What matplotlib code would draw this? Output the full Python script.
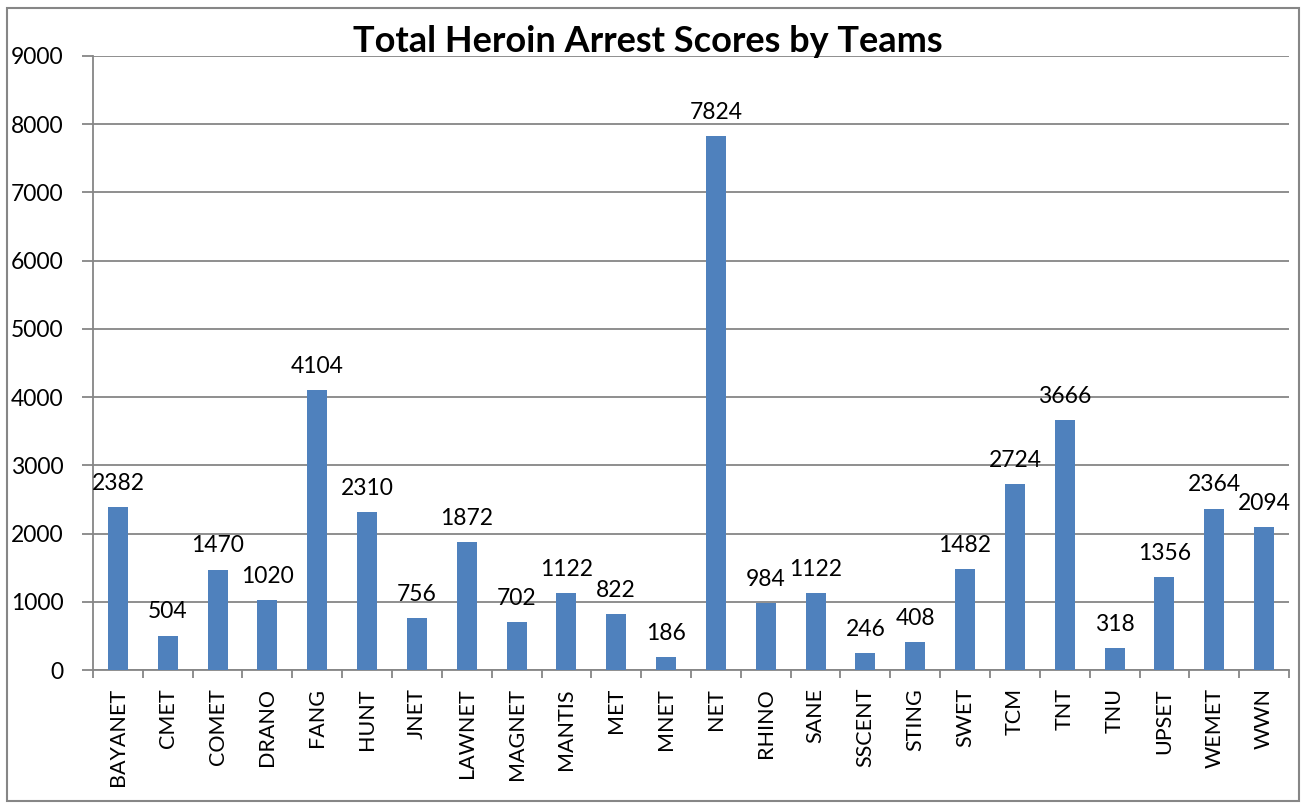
import matplotlib
matplotlib.use("Agg")
import matplotlib.pyplot as plt
from matplotlib.patches import Rectangle

teams = ["BAYANET", "CMET", "COMET", "DRANO", "FANG", "HUNT", "JNET", "LAWNET",
         "MAGNET", "MANTIS", "MET", "MNET", "NET", "RHINO", "SANE", "SSCENT",
         "STING", "SWET", "TCM", "TNT", "TNU", "UPSET", "WEMET", "WWN"]
scores = [2382, 504, 1470, 1020, 4104, 2310, 756, 1872, 702, 1122, 822, 186,
          7824, 984, 1122, 246, 408, 1482, 2724, 3666, 318, 1356, 2364, 2094]
yticks = [0, 1000, 2000, 3000, 4000, 5000, 6000, 7000, 8000, 9000]
title = "Total Heroin Arrest Scores by Teams"

plt.rcParams['font.family'] = ['Lato', 'DejaVu Sans']

W, H = 1305, 805
fig = plt.figure(figsize=(W / 100, H / 100), dpi=100)
ax = fig.add_axes([93 / W, 1 - 670 / H, (1289 - 93) / W, (670 - 56) / H])

gray = "#868686"
fs = 16.5
x = list(range(len(teams)))
ax.bar(x, scores, width=0.4, color="#4F81BD", zorder=3)
for xi, v in zip(x, scores):
    ax.annotate(str(v), (xi, v), xytext=(0, 12.5), textcoords="offset points",
                ha="center", va="baseline", fontsize=fs, color="black", zorder=4)

ax.set_xlim(-0.5, len(teams) - 0.5)
ax.set_ylim(0, 9000)
ax.set_yticks(yticks)
ax.set_yticklabels([str(t) for t in yticks], fontsize=fs)
ax.set_xticks(x)
ax.set_xticklabels(teams, rotation=90, fontsize=15.5)
ax.tick_params(axis="x", length=0, pad=13)
ax.set_xticks([i - 0.5 for i in range(len(teams) + 1)], minor=True)
ax.tick_params(axis="x", which="minor", length=6, color=gray, width=1.3, direction="out")
ax.tick_params(axis="y", length=8, color=gray, width=1.3, pad=13, direction="out")
ax.yaxis.grid(True, color=gray, linewidth=1.3, zorder=0)
ax.set_axisbelow(True)
for s in ["top", "right"]:
    ax.spines[s].set_visible(False)
for s in ["left", "bottom"]:
    ax.spines[s].set_color(gray)
    ax.spines[s].set_linewidth(1.3)

fig.text(648 / W, 1 - 52 / H, title, ha="center", va="baseline",
         fontsize=26, fontweight="bold")

fig.patches.append(Rectangle((7 / W, 4 / H), (1299 - 7) / W, (799 - 6) / H,
                             transform=fig.transFigure, fill=False,
                             edgecolor=gray, linewidth=1.5))

fig.savefig("out.png", dpi=100)
